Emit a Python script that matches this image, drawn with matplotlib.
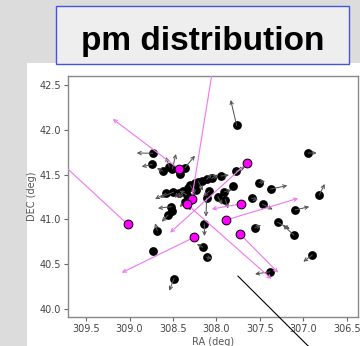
import numpy as np
import matplotlib
matplotlib.use("Agg")
import matplotlib.pyplot as plt
from matplotlib.patches import FancyArrowPatch, Rectangle
from matplotlib.lines import Line2D

# stars with small proper motion (black), RA/DEC in deg and pm offset drawn in deg
ra_black = [308.733, 308.738, 308.618, 308.543, 308.506, 308.362, 308.420,
            307.768, 306.945, 307.776, 307.948, 307.511, 307.377, 306.818,
            307.595, 307.469, 307.098, 307.297, 307.109, 307.557, 308.140,
            308.159, 308.113, 307.385, 306.899, 308.489, 308.726, 308.680,
            308.557, 308.520, 308.508, 308.580, 308.497, 308.431,
            308.385, 308.333, 308.305, 308.247, 308.207, 308.167, 308.113,
            308.055, 307.983, 307.897, 307.908, 308.083, 308.362, 308.343,
            307.814, 308.113, 308.241, 308.305]
dec_black = [41.738, 41.615, 41.540, 41.590, 41.568, 41.577, 41.507,
             42.048, 41.741, 41.535, 41.484, 41.410, 41.339, 41.272,
             41.236, 41.169, 41.105, 40.968, 40.823, 40.907, 40.949,
             40.689, 40.577, 40.416, 40.603, 40.338, 40.642, 40.874,
             41.049, 41.142, 41.099, 41.291, 41.302, 41.291,
             41.317, 41.351, 41.384, 41.403, 41.421, 41.434, 41.448,
             41.459, 41.253, 41.222, 41.309, 41.317, 41.198, 41.272,
             41.373, 41.236, 41.328, 41.217]
dra_black = [0.184, 0.122, 0.066, 0.038, -0.040, -0.115, 0.030,
             0.069, -0.097, -0.103, -0.092, -0.069, -0.191, -0.062,
             -0.072, -0.115, -0.164, -0.141, 0.126, -0.069, -0.002,
             0.066, -0.061, 0.172, 0.103, 0.054, 0.0, 0.026,
             0.072, 0.153, 0.0, 0.126, 0.153, 0.050,
             0.05, 0.0, -0.06, 0.0, -0.05, 0.0, -0.06,
             -0.07, -0.05, -0.03, -0.08, 0.07, 0.06, 0.08,
             0.0, 0.008, 0.04, 0.0]
ddec_black = [0.003, -0.027, 0.033, 0.106, 0.162, 0.134, 0.050,
              0.285, 0.0, 0.050, 0.011, 0.019, 0.039, 0.123,
              -0.019, -0.058, 0.037, -0.075, 0.115, 0.030, -0.134,
              0.037, -0.011, -0.026, -0.075, -0.134, 0.0, 0.083,
              -0.075, -0.018, 0.0, -0.064, -0.058, -0.050,
              -0.08, 0.0, -0.09, 0.0, -0.10, 0.0, 0.06,
              0.04, -0.09, -0.10, 0.02, -0.06, -0.06, 0.05,
              0.0, -0.205, -0.08, -0.12]

# stars with large proper motion (magenta)
ra_mag = [308.431, 309.021, 308.285, 308.343, 307.722, 307.891, 307.653, 307.730, 308.259]
dec_mag = [41.5625, 40.945, 41.228, 41.172, 41.172, 40.993, 41.626, 40.837, 40.800]
dra_mag = [0.762, 1.123, -0.268, -0.977, 0.333, -0.831, 0.881, -0.440, 0.831]
ddec_mag = [0.559, 1.008, 1.607, -0.837, -0.056, 0.243, -0.774, -0.432, -0.395]

xticks = [309.5, 309.0, 308.5, 308.0, 307.5, 307.0, 306.5]
yticks = [40.0, 40.5, 41.0, 41.5, 42.0, 42.5]

# stray black stroke across the lower right (figure fraction)
stroke_x = [0.661, 0.856]
stroke_y = [0.202, 0.0]

fig = plt.figure(figsize=(3.6, 3.46), dpi=100)
fig.patch.set_facecolor("#dcdcdc")

# white panel behind the plot
fig.patches.append(Rectangle((0.075, 0.0), 0.925, 0.818, transform=fig.transFigure,
                             facecolor="white", edgecolor="none", zorder=-2))
# title box
fig.patches.append(Rectangle((0.1556, 0.815), 0.8138, 0.1677, transform=fig.transFigure,
                             facecolor="#eeeeee", edgecolor="#4455dd", lw=1.0, zorder=1))
fig.text(0.5625, 0.855, "pm distribution", ha="center", va="baseline",
         fontsize=24, fontweight="bold", family="Liberation Sans", color="black", zorder=2)

ax = fig.add_axes([0.1889, 0.0838, 0.8056, 0.6965])
ax.set_zorder(0)
ax.set_xlim(309.707, 306.373)
ax.set_ylim(39.911, 42.60)

ax.scatter(ra_black, dec_black, s=40, c="black", zorder=2, linewidths=0)

for r, d, dr, dd in zip(ra_black, dec_black, dra_black, ddec_black):
    if dr == 0 and dd == 0:
        continue
    ax.add_patch(FancyArrowPatch((r, d), (r + dr, d + dd), arrowstyle="->",
                                 mutation_scale=6, color="#555555", lw=0.75,
                                 shrinkA=0, shrinkB=0, zorder=3))

for r, d, dr, dd in zip(ra_mag, dec_mag, dra_mag, ddec_mag):
    ax.add_patch(FancyArrowPatch((r, d), (r + dr, d + dd), arrowstyle="->",
                                 mutation_scale=6, color="#f07cf0", lw=0.85,
                                 shrinkA=0, shrinkB=0, zorder=3))

ax.scatter(ra_mag, dec_mag, s=40, c="#ff00ff", edgecolors="black", linewidths=0.7, zorder=4)

ax.set_xticks(xticks)
ax.set_yticks(yticks)
ax.set_xticklabels([f"{t:.1f}" for t in xticks])
ax.set_yticklabels([f"{t:.1f}" for t in yticks])
ax.tick_params(labelsize=7, labelcolor="#444444", color="#666666", length=3, width=0.8, pad=2)
for sp in ax.spines.values():
    sp.set_color("#888888")
    sp.set_linewidth(1.0)
ax.set_xlabel("RA (deg)", fontsize=7, color="#555555", labelpad=2)
ax.set_ylabel("DEC (deg)", fontsize=7, color="#555555", labelpad=2)

fig.lines.append(Line2D(stroke_x, stroke_y, transform=fig.transFigure,
                        color="black", lw=0.8, zorder=5))

fig.savefig("out.png", dpi=100, facecolor=fig.get_facecolor())
